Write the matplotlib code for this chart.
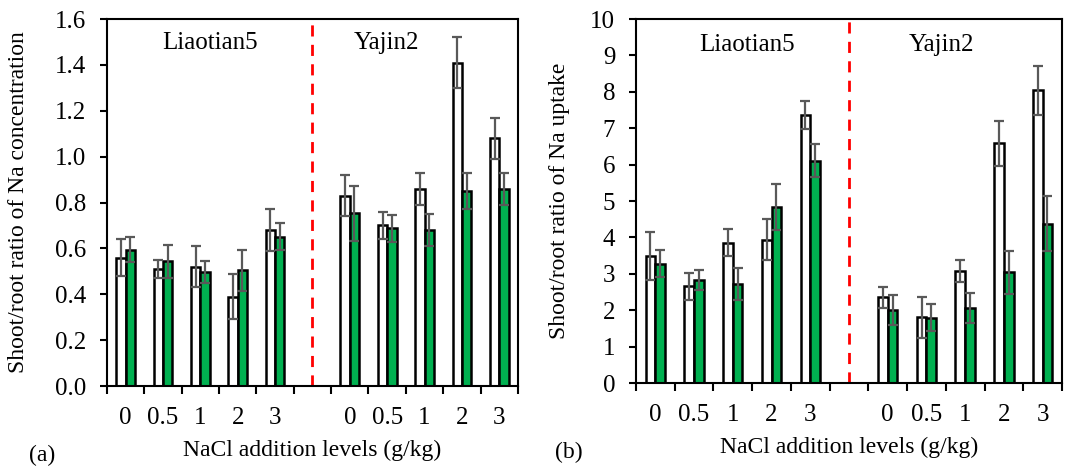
import numpy as np
import matplotlib.pyplot as plt

plt.rcParams['font.family'] = ['Liberation Serif', 'DejaVu Serif']

levels = ['0', '0.5', '1', '2', '3', '', '0', '0.5', '1', '2', '3']

# panel (a): shoot/root ratio of Na concentration
conc_white = [0.56, 0.51, 0.52, 0.39, 0.68, np.nan, 0.83, 0.70, 0.86, 1.41, 1.08]
conc_white_err = [0.08, 0.04, 0.09, 0.10, 0.09, np.nan, 0.09, 0.06, 0.07, 0.11, 0.09]
conc_green = [0.595, 0.543, 0.498, 0.505, 0.651, np.nan, 0.753, 0.687, 0.680, 0.850, 0.859]
conc_green_err = [0.056, 0.07, 0.048, 0.089, 0.06, np.nan, 0.12, 0.058, 0.068, 0.08, 0.068]

# panel (b): shoot/root ratio of Na uptake
upt_white = [3.49, 2.66, 3.85, 3.94, 7.37, np.nan, 2.35, 1.80, 3.08, 6.58, 8.04]
upt_white_err = [0.67, 0.37, 0.37, 0.56, 0.39, np.nan, 0.29, 0.56, 0.31, 0.62, 0.68]
upt_green = [3.28, 2.83, 2.72, 4.83, 6.11, np.nan, 2.00, 1.79, 2.06, 3.04, 4.38]
upt_green_err = [0.38, 0.27, 0.45, 0.64, 0.45, np.nan, 0.41, 0.37, 0.40, 0.60, 0.76]

fig = plt.figure(figsize=(10.75, 4.68), dpi=100)
ax1 = fig.add_axes([0.0995, 0.1752, 0.3823, 0.7842])
ax2 = fig.add_axes([0.5916, 0.1816, 0.3963, 0.7778])

x = np.arange(len(levels))
w = 0.25
ecol = '#595959'


def draw(ax, white, werr, green, gerr, ylim, yticks, fmt, ylabel, tag, txt_y, ylab_x, txt_x):
    ax.bar(x - w / 2, white, w, color='white', edgecolor='black', linewidth=1.8, zorder=2)
    ax.bar(x + w / 2, green, w, color='#00B050', edgecolor='black', linewidth=1.8, zorder=2)
    ax.errorbar(x - w / 2, white, yerr=werr, fmt='none', ecolor=ecol, elinewidth=1.6,
                capsize=3.6, capthick=1.6, zorder=3)
    ax.errorbar(x + w / 2, green, yerr=gerr, fmt='none', ecolor=ecol, elinewidth=1.6,
                capsize=3.6, capthick=1.6, zorder=3)
    ax.axvline(5, color='#FF0000', linestyle=(0, (4, 3)), linewidth=2, zorder=1)
    ax.set_xlim(-0.5, 10.5)
    ax.set_ylim(*ylim)
    ax.set_yticks(yticks)
    ax.set_yticklabels([fmt.format(v) for v in yticks])
    ax.set_xticks(np.arange(-0.5, 10.6, 1))
    ax.set_xticklabels([])
    ax.set_xticks(x, minor=True)
    ax.set_xticklabels(levels, minor=True)
    ax.tick_params(axis='x', which='major', direction='out', length=6, width=1.5)
    ax.tick_params(axis='x', which='minor', length=0, pad=15, labelsize=18)
    ax.tick_params(axis='y', direction='out', length=5, width=1.5, labelsize=18, pad=10)
    for s in ax.spines.values():
        s.set_linewidth(1.5)
    ax.set_ylabel(ylabel, fontsize=17)
    ax.yaxis.set_label_coords(ylab_x, 0.5)
    ax.text(txt_x[0], txt_y, 'Liaotian5', ha='center', va='center', fontsize=18,
            transform=ax.get_xaxis_transform())
    ax.text(txt_x[1], txt_y, 'Yajin2', ha='center', va='center', fontsize=18,
            transform=ax.get_xaxis_transform())
    ax.set_xlabel('NaCl addition levels (g/kg)', fontsize=17, labelpad=8)
    ax.text(-0.19, -0.19, tag, fontsize=17, transform=ax.transAxes, ha='left', va='center')


draw(ax1, conc_white, conc_white_err, conc_green, conc_green_err, (0, 1.6),
     np.arange(0, 1.61, 0.2), '{:.1f}', 'Shoot/root ratio of Na concentration', '(a)', 0.935,
     -0.19, (2.25, 6.98))
draw(ax2, upt_white, upt_white_err, upt_green, upt_green_err, (0, 10),
     np.arange(0, 11, 1), '{:.0f}', 'Shoot/root ratio of Na uptake', '(b)', 0.929,
     -0.155, (2.37, 7.4))

fig.savefig('out.png', dpi=100)
